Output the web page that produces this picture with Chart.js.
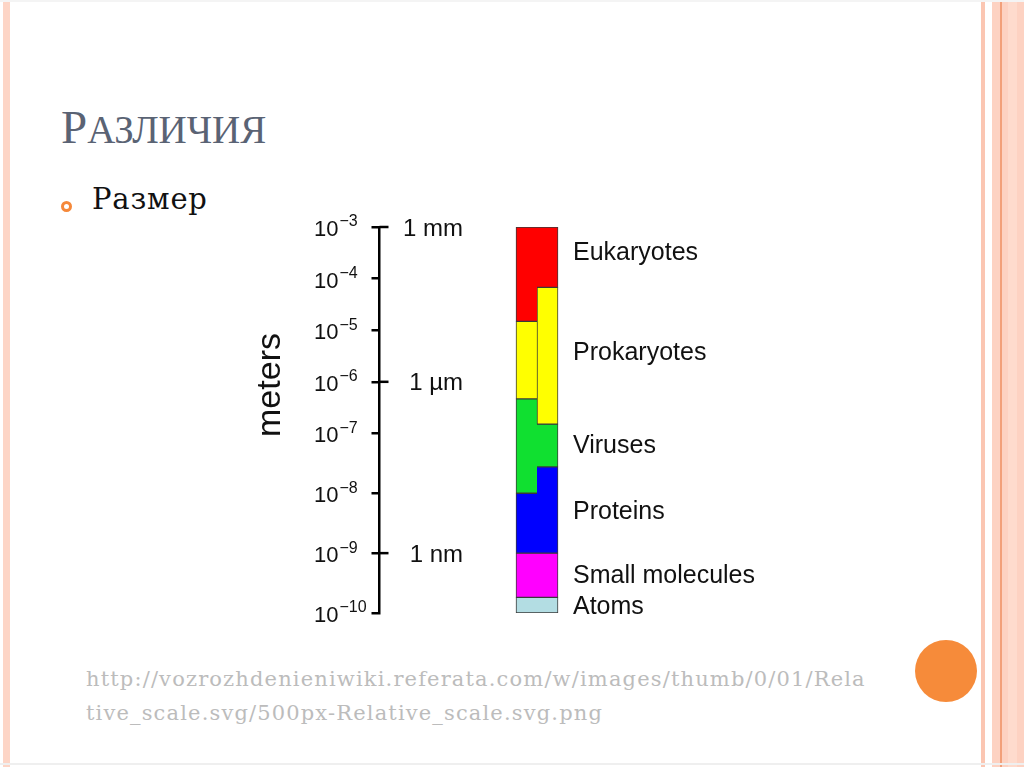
<!DOCTYPE html>
<html lang="ru">
<head>
<meta charset="utf-8">
<title>Различия</title>
<script src="https://cdn.jsdelivr.net/npm/chart.js@4.4.1/dist/chart.umd.min.js"></script>
<style>
  html, body { margin: 0; padding: 0; }
  body { width: 1024px; height: 767px; position: relative; overflow: hidden; background: #fff; }
  .stripe { position: absolute; top: 0; bottom: 0; }
  .title {
    position: absolute; left: 61px; top: 104px;
    font: 47px/1 "Liberation Serif", serif;
    color: #5a6374; white-space: nowrap;
  }
  .title small { font-size: 39px; }
  .bullet {
    position: absolute; left: 61px; top: 201px; width: 11px; height: 11px;
    box-sizing: border-box; border: 3px solid #f5883a; border-radius: 50%;
  }
  .item {
    position: absolute; left: 92px; top: 185px;
    font: 29px/29px "DejaVu Serif", serif; letter-spacing: 0.8px; color: #111; white-space: nowrap;
  }
  .source {
    position: absolute; left: 86px; top: 662px;
    font: 21px/34px "DejaVu Serif", serif; letter-spacing: 1.15px; color: #bcbcbc; white-space: nowrap;
  }
  .dot { position: absolute; left: 915px; top: 640px; width: 62px; height: 62px; border-radius: 50%; background: #f68b3a; }
  #scale { position: absolute; left: 240px; top: 200px; }
</style>
</head>
<body>
<div class="stripe" style="left:3px;width:7px;background:#fdd5c6"></div>
<div class="stripe" style="left:981px;width:4px;background:#fbc6b2"></div>
<div class="stripe" style="left:992px;width:32px;background:#fdd2c2"></div>
<div class="stripe" style="left:1008px;width:9px;background:#fedbcd"></div>
<div class="stripe" style="left:1000px;width:1.5px;background:#f2a07a"></div>
<div style="position:absolute;left:0;right:0;top:0;height:2px;background:#f4f4f4"></div>
<div style="position:absolute;left:0;right:0;top:763px;height:2px;background:#efefef"></div>

<div class="title">Р<small>АЗЛИЧИЯ</small></div>
<div class="bullet"></div>
<div class="item">Размер</div>
<div class="source">http://vozrozhdenieniwiki.referata.com/w/images/thumb/0/01/Rela<br>tive_scale.svg/500px-Relative_scale.svg.png</div>
<div class="dot"></div>

<canvas id="scale" width="560" height="440"></canvas>

<script>
// size ranges as powers of ten (meters); left and right half of the column
const groups    = ['Eukaryotes', 'Prokaryotes', 'Viruses', 'Proteins', 'Small molecules', 'Atoms'];
const leftLow   = [-4.83, -6.33, -8.00, -9.00, -9.74, -10.00];
const leftHigh  = [-3.00, -4.83, -6.33, -8.00, -9.00, -9.74];
const rightLow  = [-4.17, -6.82, -7.56, -9.00, -9.74, -10.00];
const rightHigh = [-3.00, -4.17, -6.82, -7.56, -9.00, -9.74];
const labelAt   = [-3.48, -5.42, -7.19, -8.29, -9.37, -9.89];

const unitExps  = [-3, -6, -9];
const unitNames = ['1 mm', '1 µm', '1 nm'];

const colors = ['#ff0000', '#ffff00', '#10e030', '#0000ff', '#ff00ff', '#b3dde3'];

// the original drawing spaces the lower decades a bit wider
const SPLIT_AT = -7;
const LOWER_STRETCH = 1.16;

class SplitLinearScale extends Chart.LinearScale {
  _frac(v) {
    const lower = (SPLIT_AT - this.min) * LOWER_STRETCH;
    const total = lower + (this.max - SPLIT_AT);
    return v <= SPLIT_AT ? (v - this.min) * LOWER_STRETCH / total : (lower + v - SPLIT_AT) / total;
  }
  getPixelForValue(v) {
    return v == null ? NaN : this.getPixelForDecimal(this._frac(v));
  }
  getValueForPixel(p) {
    const d = this.getDecimalForPixel(p);
    const lower = (SPLIT_AT - this.min) * LOWER_STRETCH;
    const total = lower + (this.max - SPLIT_AT);
    const pos = d * total;
    return pos <= lower ? this.min + pos / LOWER_STRETCH : SPLIT_AT + (pos - lower);
  }
}
SplitLinearScale.id = 'splitLinear';
SplitLinearScale.defaults = Chart.LinearScale.defaults;
Chart.register(SplitLinearScale);

const datasets = groups.map((name, i) => ({
  label: name,
  data: [
    { x: 0, y: [leftLow[i], leftHigh[i]] },
    { x: 1, y: [rightLow[i], rightHigh[i]] },
  ],
  backgroundColor: colors[i],
  borderColor: '#3a3a3a',
  borderSkipped: false,
  borderWidth: ctx => ({
    top: 1, bottom: 1,
    left: ctx.dataIndex === 0 || name === 'Prokaryotes' ? 1 : 0,
    right: ctx.dataIndex === 1 ? 1 : 0,
  }),
  grouped: false,
  barPercentage: 1,
  categoryPercentage: 1,
}));

const labelsPlugin = {
  id: 'scaleLabels',
  afterDraw(chart) {
    const { ctx } = chart;
    const y = chart.scales.y;
    const ox = chart.canvas.offsetLeft, oy = chart.canvas.offsetTop;
    ctx.save();
    ctx.translate(-ox, -oy); // work in page pixels
    ctx.fillStyle = '#111';
    ctx.textBaseline = 'middle';

    // 10^n tick labels
    y.ticks.forEach(t => {
      const py = y.getPixelForValue(t.value) + oy;
      ctx.font = '22px "Liberation Sans", Arial, sans-serif';
      ctx.textAlign = 'left';
      ctx.fillText('10', 314, py + 3);
      const w = ctx.measureText('10').width;
      ctx.font = '16px "Liberation Sans", Arial, sans-serif';
      ctx.fillText('\u2212' + Math.abs(t.value), 314 + w + 1, py - 5);
    });

    // major marks reach past the axis
    ctx.strokeStyle = '#000';
    ctx.lineWidth = 2.5;
    unitExps.forEach((e, i) => {
      const py = y.getPixelForValue(e) + oy;
      ctx.beginPath();
      ctx.moveTo(y.right + ox, py);
      ctx.lineTo(y.right + ox + 9, py);
      ctx.stroke();
      ctx.font = '24px "Liberation Sans", Arial, sans-serif';
      ctx.textAlign = 'right';
      ctx.fillText(unitNames[i], 463, py + 2);
    });

    // group names
    ctx.font = '25px "Liberation Sans", Arial, sans-serif';
    ctx.textAlign = 'left';
    groups.forEach((g, i) => {
      ctx.fillText(g, 573, y.getPixelForValue(labelAt[i]) + oy + 1);
    });

    // axis name
    ctx.translate(271, 385);
    ctx.rotate(-Math.PI / 2);
    ctx.textAlign = 'center';
    ctx.font = '34px "Liberation Sans", Arial, sans-serif';
    ctx.fillText('meters', 0, 0);
    ctx.restore();
  }
};

new Chart(document.getElementById('scale'), {
  type: 'bar',
  data: { datasets },
  options: {
    responsive: false,
    animation: false,
    layout: { padding: { left: 139.5, right: 231.5, top: 27, bottom: 27 } },
    plugins: { legend: { display: false }, tooltip: { enabled: false } },
    scales: {
      x: { type: 'linear', display: false, offset: false, min: -7, max: 2, ticks: { stepSize: 1 } },
      y: {
        type: 'splitLinear',
        min: -10, max: -3,
        ticks: { display: false, stepSize: 1 },
        grid: { drawOnChartArea: false, drawTicks: true, tickLength: 8, color: '#000', lineWidth: 2.5 },
        border: { display: true, color: '#000', width: 2.5 },
        afterFit(scale) { scale.width = 0; },
      },
    },
  },
  plugins: [labelsPlugin],
});
</script>
</body>
</html>
